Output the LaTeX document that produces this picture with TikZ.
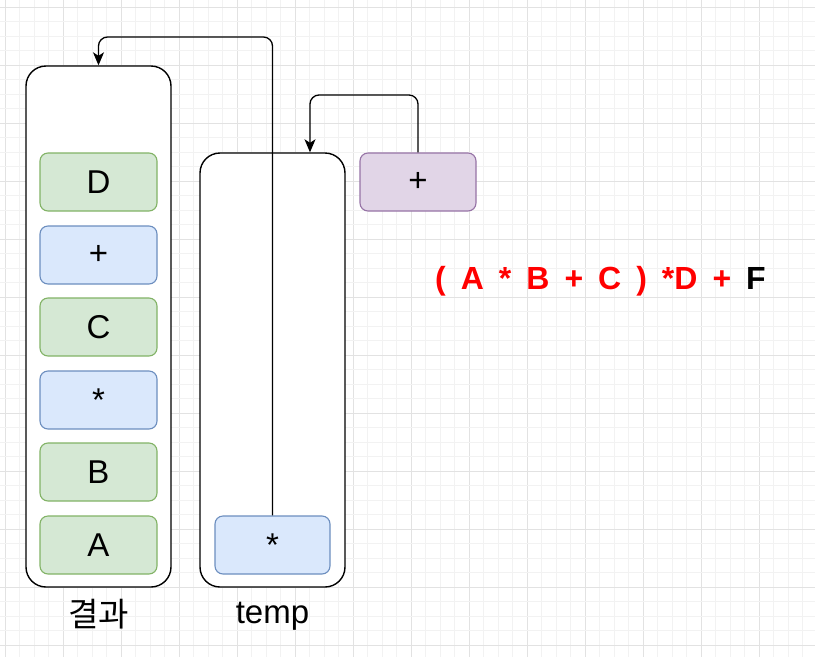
\documentclass[tikz,border=0pt]{standalone}
\usepackage{fontspec}
\setmainfont{Liberation Sans}
\newfontfamily\kofont{Noto Sans CJK KR}
\usetikzlibrary{arrows.meta}
\definecolor{gmin}{HTML}{F2F2F2}
\definecolor{gmaj}{HTML}{E2E2E2}
\definecolor{gfill}{HTML}{D5E8D4}
\definecolor{gline}{HTML}{82B366}
\definecolor{bfill}{HTML}{DAE8FC}
\definecolor{bline}{HTML}{6C8EBF}
\definecolor{pfill}{HTML}{E1D5E7}
\definecolor{pline}{HTML}{9673A6}
\tikzset{
  container/.style={draw=black, line width=1.4pt, fill=white, rounded corners=20pt, minimum width=145pt, inner sep=0pt},
  item/.style={draw, line width=1.1pt, rounded corners=8pt, minimum width=117pt, minimum height=58pt, inner sep=0pt, font=\fontsize{33}{38}\selectfont},
  gbox/.style={item, fill=gfill, draw=gline},
  bbox/.style={item, fill=bfill, draw=bline},
  pbox/.style={item, fill=pfill, draw=pline},
  arr/.style={draw=black, line width=1.3pt, rounded corners=9pt, -{Stealth[length=13pt,width=11pt,inset=3.5pt]}},
  lbl/.style={inner sep=0pt, font=\fontsize{33}{38}\selectfont}
}
\begin{document}
\begin{tikzpicture}[x=1pt,y=-1pt]
\useasboundingbox (0,0) rectangle (815,657);
\fill[white] (0,0) rectangle (815,657);
% grid
\foreach \i in {0,...,56} {
  \pgfmathsetmacro{\xx}{5.3+14.5*\i}
  \pgfmathtruncatemacro{\m}{mod(\i,4)}
  \ifnum\m=0
    \draw[gmaj, line width=0.9pt] (\xx,0) -- (\xx,657);
  \else
    \draw[gmin, line width=0.9pt] (\xx,0) -- (\xx,657);
  \fi
}
\foreach \i in {0,...,45} {
  \pgfmathsetmacro{\yy}{7.3+14.5*\i}
  \pgfmathtruncatemacro{\m}{mod(\i,4)}
  \ifnum\m=0
    \draw[gmaj, line width=0.9pt] (0,\yy) -- (815,\yy);
  \else
    \draw[gmin, line width=0.9pt] (0,\yy) -- (815,\yy);
  \fi
}
% containers
\node[container, minimum height=521pt] (res) at (98.5,326.5) {};
\node[container, minimum height=434pt] (tmp) at (272.5,370) {};
% items
\node[gbox] (d) at (98.5,182) {D};
\node[bbox] (p1) at (98.5,255) {+};
\node[gbox] (c) at (98.5,327) {C};
\node[bbox] (s1) at (98.5,400) {*};
\node[gbox] (b) at (98.5,472) {B};
\node[gbox] (a) at (98.5,545) {A};
\node[bbox, minimum width=115pt] (ts) at (272.5,545) {*};
\node[pbox, minimum width=116pt] (pp) at (418,182) {+};
% labels
\node[lbl, font=\kofont\fontsize{33}{38}\selectfont] (lres) at (98.5,614) {결과};
\node[lbl] (ltmp) at (272.5,616) {temp};
% expression
\node[inner sep=0pt, anchor=west, font=\bfseries\fontsize{32}{38}\selectfont, text=red] (expr) at (435,281)
  {\spaceskip=15pt ( A * B + C ) *D + \textcolor{black}{F}};
% connectors
\coordinate (t1) at (0,37);
\coordinate (t2) at (0,95);
\draw[arr] (ts.north) -- (ts.north |- t1) -| (res.north);
\draw[arr] (pp.north) -- (pp.north |- t2) -| ([xshift=37.5pt]tmp.north);
\end{tikzpicture}
\end{document}
